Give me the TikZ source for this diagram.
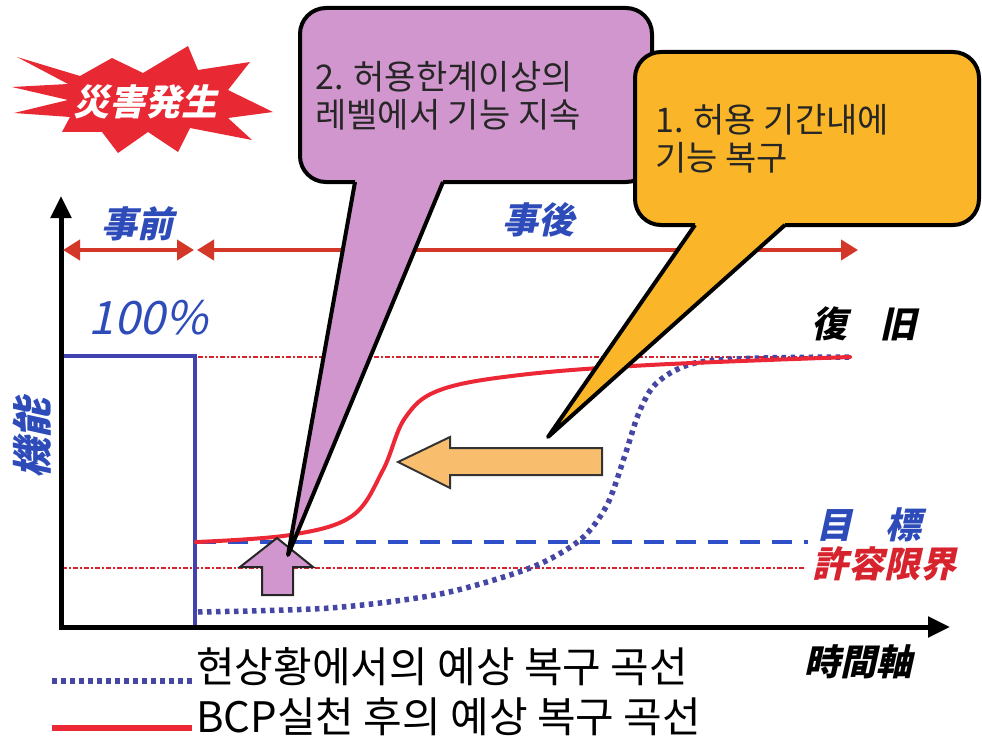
\documentclass[tikz,border=0pt]{standalone}
\usepackage{fontspec}
\setmainfont{Liberation Sans}
\newfontfamily\kr{Noto Sans CJK KR}
\newfontfamily\jp[FakeSlant=0.22]{Noto Sans CJK JP}
\usetikzlibrary{arrows.meta}
\definecolor{burstred}{RGB}{232,40,50}
\definecolor{lblue}{RGB}{45,75,185}
\definecolor{axred}{RGB}{210,55,40}
\definecolor{curvered}{RGB}{236,40,55}
\definecolor{dotblue}{RGB}{70,70,165}
\definecolor{hundblue}{RGB}{65,65,175}
\definecolor{dashblue}{RGB}{45,80,200}
\definecolor{purp}{RGB}{208,150,205}
\definecolor{orng}{RGB}{250,182,40}
\definecolor{lorng}{RGB}{248,190,110}
\definecolor{lblred}{RGB}{215,35,45}
\tikzset{
  axisline/.style={line width=5pt, black, -{Triangle[length=22pt,width=20pt]}},
  dblarrow/.style={line width=4pt, axred, {Triangle[length=17pt,width=20pt]}-{Triangle[length=17pt,width=20pt]}},
  bcpcurve/.style={line width=4pt, curvered, line cap=round},
  dotcurve/.style={line width=5.5pt, dotblue, dash pattern=on 4.5pt off 4.5pt},
  reddashdot/.style={line width=2pt, lblred, dash pattern=on 5pt off 2pt on 2pt off 2pt},
  bluedash/.style={line width=3.5pt, dashblue, dash pattern=on 20pt off 12pt},
  jplabel/.style={font=\jp\bfseries\fontsize{36}{36}\selectfont, inner sep=0pt},
  calloutbox/.style={line width=4pt, black, rounded corners=26pt},
  krtext/.style={font=\kr\fontsize{34}{38}\selectfont, align=left, inner sep=0pt, text=black!85},
  legendtext/.style={font=\kr\fontsize{42}{42}\selectfont, inner sep=0pt, anchor=west},
}
\begin{document}
\begin{tikzpicture}[x=1pt,y=-1pt]
\useasboundingbox (0,0) rectangle (982,749);
% burst
\fill[burstred] (17,57) -- (80,76) -- (112,58) -- (143,73) -- (188,46) -- (198,70) -- (250,62) -- (228,90) -- (273,112) -- (228,118) -- (252,140) -- (190,128) -- (178,152) -- (148,132) -- (118,153) -- (102,132) -- (62,132) -- (70,117) -- (14,113) -- (68,100) -- (12,87) -- (68,84) -- cycle;
\node[jplabel, text=white, font=\jp\bfseries\fontsize{36}{36}\selectfont] (burst) at (145,102) {災害発生};
% reference lines
\coordinate (l100a) at (198,357); \coordinate (l100b) at (850,357);
\draw[reddashdot] (l100a) -- (l100b);
\coordinate (lima) at (62,568); \coordinate (limb) at (806,568);
\draw[reddashdot] (lima) -- (limb);
\coordinate (tga) at (196,542); \coordinate (tgb) at (808,542);
\draw[bluedash] (tga) -- (tgb);
% 100% line
\coordinate (h0) at (62,356); \coordinate (h1) at (195,356); \coordinate (h2) at (195,626);
\draw[line width=3.5pt, hundblue, line join=miter] (h0) -- (h1) -- (h2);
% axes
\coordinate (O) at (61,629);
\coordinate (ytop) at (61,196);
\coordinate (xend) at (950,627);
\coordinate (O2) at (59,627);
\draw[axisline] (O) -- (ytop);
\draw[axisline] (O2) -- (xend);
% period arrows
\coordinate (pa) at (63,250); \coordinate (pb) at (194,250);
\coordinate (pc) at (197,250); \coordinate (pd) at (858,250);
\draw[dblarrow] (pa) -- (pb);
\draw[dblarrow] (pc) -- (pd);
\node[jplabel, text=lblue] (before) at (137,224) {事前};
\node[jplabel, text=lblue] (after) at (538,220) {事後};
\node[inner sep=0pt, text=lblue, font=\jp\fontsize{46}{46}\selectfont] (hundred) at (148,318) {100\%};
% curves
\draw[dotcurve] plot[smooth] coordinates {(198,612) (330,608) (440,594) (530,568) (580,540) (607,505) (625,455) (638,415) (652,388) (672,372) (700,362) (760,358) (850,357)};
\draw[bcpcurve] plot[smooth, tension=0.6] coordinates {(196,542) (290,535) (352,516) (383,470) (405,418) (440,390) (520,375) (650,365) (850,357)};
% right labels
\node[jplabel, text=black] (recov) at (864,324) {復\hspace{0.9em}旧};
\node[jplabel, text=lblue] (target) at (869,525) {目\hspace{0.9em}標};
\node[jplabel, text=lblred] (limit) at (884,564) {許容限界};
\node[jplabel, text=black] (taxis) at (858,662) {時間軸};
\node[jplabel, text=lblue, rotate=90, font=\jp\bfseries\fontsize{40}{40}\selectfont] (func) at (32,438) {機能};
% orange left arrow
\filldraw[fill=lorng, draw=black!80, line width=2pt, line join=miter] (602,448) -- (450,448) -- (450,437) -- (398,462) -- (450,488) -- (450,475) -- (602,475) -- cycle;
% purple up arrow
\filldraw[fill=purp, draw=black!85, line width=2pt, line join=miter] (262,595) -- (262,567) -- (240,567) -- (277,538) -- (313,567) -- (293,567) -- (293,595) -- cycle;
% purple callout
\filldraw[calloutbox, fill=purp] (300,8) rectangle (652,182);
\fill[purp] (356,176) -- (442,176) -- (443,182) -- (288,555) -- (355,182) -- cycle;
\draw[line width=4pt, black, line join=round] (355,182) -- (288,555) -- (443,182);
\node[krtext, anchor=west] (t2) at (315,96) {2. 허용한계이상의\\레벨에서 기능 지속};
% orange callout
\filldraw[calloutbox, fill=orng] (635,52) rectangle (979,225);
\fill[orng] (696,219) -- (784,219) -- (785,225) -- (548,437) -- (695,225) -- cycle;
\draw[line width=4pt, black, line join=round] (695,225) -- (548,437) -- (785,225);
\node[krtext, anchor=west] (t1) at (655,139) {1. 허용 기간내에\\기능 복구};
% legend
\coordinate (la) at (52,681); \coordinate (lb) at (192,681);
\draw[dotcurve] (la) -- (lb);
\node[legendtext] (leg1) at (196,667) {현상황에서의 예상 복구 곡선};
\coordinate (lc) at (52,728); \coordinate (ld) at (192,728);
\draw[line width=6pt, curvered] (lc) -- (ld);
\node[legendtext] (leg2) at (196,717) {BCP실천 후의 예상 복구 곡선};
\end{tikzpicture}
\end{document}
